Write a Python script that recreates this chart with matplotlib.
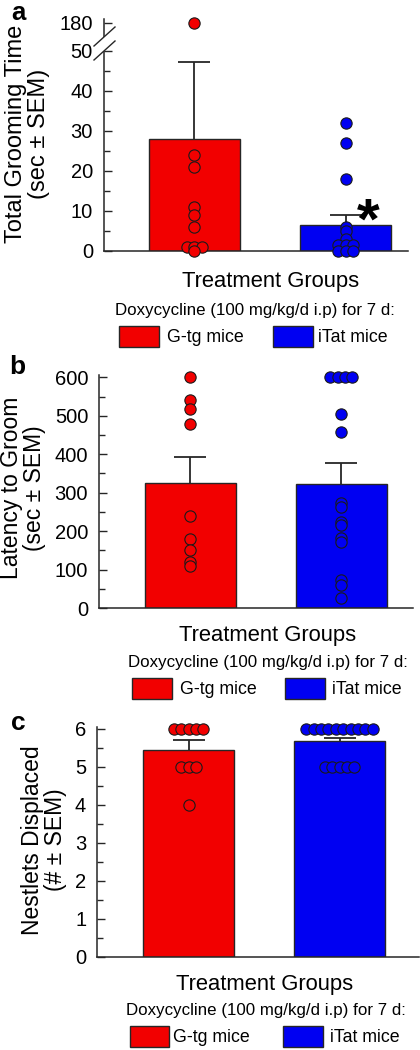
import numpy as np
import matplotlib
matplotlib.use('Agg')
import matplotlib.pyplot as plt
from matplotlib.patches import Rectangle, Polygon
from matplotlib.lines import Line2D
from matplotlib.ticker import FixedLocator, NullFormatter

plt.rcParams['font.family'] = ['Liberation Sans', 'DejaVu Sans']

# ---------------- data ----------------
groups = ['G-tg mice', 'iTat mice']
bar_colors = ['#f20000', '#0000f2']

# Panel a: Total grooming time (sec)
a_means = [28.0, 6.4]
a_sems = [19.3, 2.7]
a_gtg = [180, 24, 21, 11, 9, 6, 1, 1, 1, 0]
a_itat = [32, 27, 18, 6, 5, 3, 1.5, 1.5, 1.5, 0, 0, 0]
a_ticks = [0, 10, 20, 30, 40, 50, 180]
a_minor = [5, 15, 25, 35, 45]

# Panel b: Latency to groom (sec)
b_means = [325, 322]
b_sems = [68, 55]
b_gtg = [600, 540, 518, 478, 240, 180, 150, 120, 110]
b_itat = [600, 600, 600, 600, 505, 458, 272, 262, 224, 216, 181, 171, 73, 60, 25]
b_ticks = [0, 100, 200, 300, 400, 500, 600]
b_minor = [50, 150, 250, 350, 450, 550]

# Panel c: Nestlets displaced (#)
c_means = [5.43, 5.67]
c_sems = [0.26, 0.09]
c_gtg = [6, 6, 6, 6, 6, 5, 5, 5, 4]
c_itat = [6, 6, 6, 6, 6, 6, 6, 6, 6, 6, 5, 5, 5, 5, 5]
c_ticks = [0, 1, 2, 3, 4, 5, 6]
c_minor = [0.5, 1.5, 2.5, 3.5, 4.5, 5.5]

ylabels = ["Total Grooming Time\n(sec \u00b1 SEM)",
           "Latency to Groom\n(sec \u00b1 SEM)",
           "Nestlets Displaced\n(# \u00b1 SEM)"]
xlabel = "Treatment Groups"
legend_title = "Doxycycline (100 mg/kg/d i.p) for 7 d:"
panel_letters = ['a', 'b', 'c']

# ---------------- layout ----------------
W, H = 420, 1050
fig = plt.figure(figsize=(W / 100, H / 100), dpi=100)


def fx(x):
    return x / W


def fy(y):
    return 1 - y / H


def add_axes_px(left, right, top, bottom):
    return fig.add_axes([fx(left), fy(bottom), (right - left) / W, (bottom - top) / H])


EDGE = '#262626'
STEP = 0.049
BAR_W = 0.6
CAP = 0.106


def offsets(vals):
    vals = list(vals)
    offs = []
    counts = {v: vals.count(v) for v in vals}
    seen = {}
    for v in vals:
        i = seen.get(v, 0)
        seen[v] = i + 1
        n = counts[v]
        offs.append((i - (n - 1) / 2) * STEP)
    return offs


def draw_panel(ax, means, sems, pts_list, ticks, minor, xlim, ylim):
    x = np.arange(len(groups))
    ax.bar(x, means, width=BAR_W, color=bar_colors, edgecolor=EDGE,
           linewidth=1.0, zorder=2)
    tops = np.array(means) + np.array(sems)
    ax.vlines(x, means, tops, color=EDGE, linewidth=1.3, zorder=3)
    ax.hlines(tops, x - CAP, x + CAP, color=EDGE, linewidth=1.3, zorder=3)
    for i, pts in enumerate(pts_list):
        offs = offsets(pts)
        ax.scatter(x[i] + np.array(offs), pts, s=66, color=bar_colors[i],
                   edgecolor='#1a1a1a', linewidth=0.8, zorder=4, clip_on=False)
    ax.set_xlim(*xlim)
    ax.set_ylim(*ylim)
    ax.set_xticks([])
    ax.yaxis.set_major_locator(FixedLocator(ticks))
    ax.yaxis.set_minor_locator(FixedLocator(minor))
    ax.yaxis.set_minor_formatter(NullFormatter())
    ax.tick_params(axis='y', which='major', direction='in', length=5.5,
                   width=1.0, color=EDGE, labelsize=14.5, pad=8)
    ax.tick_params(axis='y', which='minor', direction='in', length=4,
                   width=1.0, color=EDGE)
    for s in ['top', 'right']:
        ax.spines[s].set_visible(False)
    for s in ['left', 'bottom']:
        ax.spines[s].set_color(EDGE)
        ax.spines[s].set_linewidth(1.1)
    ax.patch.set_alpha(0)


# Panel a with a broken y axis (piecewise scale)
K = 7 / 130.0


def fwd(v):
    v = np.asarray(v, dtype=float)
    return np.where(v <= 50, v, 50 + (v - 50) * K)


def inv(u):
    u = np.asarray(u, dtype=float)
    return np.where(u <= 50, u, 50 + (u - 50) / K)


axA = add_axes_px(104, 408, 19.4, 251)
axA.set_yscale('function', functions=(fwd, inv))
draw_panel(axA, a_means, a_sems, [a_gtg, a_itat], a_ticks, a_minor,
           (-0.597, 1.41), (0, 196))
axA.text(1.15, 3.0, '*', fontsize=42, fontweight='bold', ha='center',
         va='baseline', zorder=5)

# break marks
poly = Polygon([(fx(94), fy(60)), (fx(115), fy(41)), (fx(115), fy(27)), (fx(94), fy(46))],
               closed=True, facecolor='white', edgecolor='none',
               transform=fig.transFigure, zorder=10)
fig.add_artist(poly)
for (x0, y0, x1, y1) in [(94, 60, 115, 41), (94, 46, 115, 27)]:
    fig.add_artist(Line2D([fx(x0), fx(x1)], [fy(y0), fy(y1)], color=EDGE,
                          linewidth=1.0, transform=fig.transFigure, zorder=11))

axB = add_axes_px(99.3, 413, 375.4, 608)
draw_panel(axB, b_means, b_sems, [b_gtg, b_itat], b_ticks, b_minor,
           (-0.6016, 1.4745), (0, 605))

axC = add_axes_px(97.3, 419, 727.4, 956.7)
draw_panel(axC, c_means, c_sems, [c_gtg, c_itat], c_ticks, c_minor,
           (-0.606, 1.527), (0, 6.03))

# ---------------- texts ----------------
# y labels
ylab_specs = [((27.5, 134), 17), ((23, 488), 16.5), ((44, 840), 16.5)]
for lab, ((x, y), fs) in zip(ylabels, ylab_specs):
    fig.text(fx(x), fy(y), lab, rotation=90, ha='center', va='center',
             multialignment='center', fontsize=fs, linespacing=1.05)

# panel letters
fig.text(fx(11), fy(0.5), panel_letters[0], fontsize=18.5, fontweight='bold',
         ha='left', va='top')
fig.text(fx(9), fy(374), panel_letters[1], fontsize=19, fontweight='bold',
         ha='left', va='baseline')
fig.text(fx(11), fy(730), panel_letters[2], fontsize=19, fontweight='bold',
         ha='left', va='baseline')

# x labels, legend titles and legend entries
blocks = [
    dict(xl=(270.5, 287.3), tl=(255, 315), r1=(119, 159), t1=167, r2=(273, 313), t2=318, ry=(326, 346.7), tb=341.7),
    dict(xl=(268, 640.7), tl=(268, 666.7), r1=(131.7, 171.7), t1=180, r2=(285, 325), t2=331.7, ry=(678.3, 699), tb=694),
    dict(xl=(265, 990), tl=(266.3, 1015), r1=(130, 169.3), t1=173, r2=(283.3, 323.3), t2=330, ry=(1026, 1046.7), tb=1041.7),
]
for b in blocks:
    fig.text(fx(b['xl'][0]), fy(b['xl'][1]), xlabel, fontsize=15.8,
             ha='center', va='baseline')
    fig.text(fx(b['tl'][0]), fy(b['tl'][1]), legend_title, fontsize=12.2,
             ha='center', va='baseline')
    for (r, t, col, g) in [(b['r1'], b['t1'], bar_colors[0], groups[0]),
                           (b['r2'], b['t2'], bar_colors[1], groups[1])]:
        rect = Rectangle((fx(r[0]), fy(b['ry'][1])), (r[1] - r[0]) / W,
                         (b['ry'][1] - b['ry'][0]) / H, facecolor=col,
                         edgecolor=EDGE, linewidth=1.0, transform=fig.transFigure)
        fig.add_artist(rect)
        fig.text(fx(t), fy(b['tb']), g, fontsize=12.8, ha='left', va='baseline')

fig.savefig('out.png', dpi=100)
